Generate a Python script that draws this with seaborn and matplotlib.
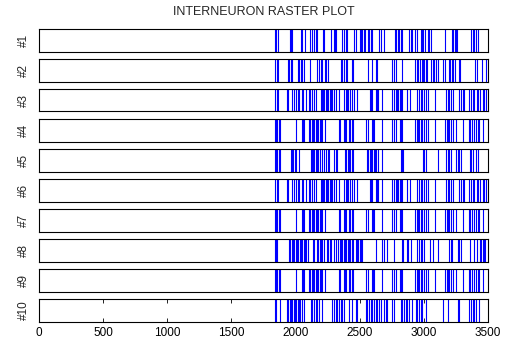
import matplotlib
matplotlib.use("Agg")
import matplotlib.pyplot as plt
import seaborn as sns

sns.set_style("white")
plt.rcParams["font.family"] = ["Liberation Sans", "DejaVu Sans"]

title = "INTERNEURON RASTER PLOT"
row_labels = ["#1", "#2", "#3", "#4", "#5", "#6", "#7", "#8", "#9", "#10"]
x_ticks = [0, 500, 1000, 1500, 2000, 2500, 3000, 3500]

# spike times (ms) for each interneuron
spikes_1 = [1838, 1851, 1865, 1953, 1961, 1974, 2042, 2052, 2070, 2112, 2130, 2143,
            2156, 2169, 2213, 2224, 2276, 2299, 2307, 2315, 2365, 2378, 2391, 2401,
            2456, 2469, 2503, 2513, 2521, 2531, 2542, 2562, 2573, 2586, 2599, 2651,
            2664, 2687, 2773, 2784, 2797, 2807, 2820, 2828, 2888, 2898, 2911, 2930,
            2943, 2974, 2984, 2997, 3008, 3029, 3042, 3057, 3167, 3219, 3229, 3240,
            3250, 3260, 3367, 3380, 3393, 3406, 3422]
spikes_2 = [1838, 1852, 1862, 1940, 1948, 1961, 1974, 2018, 2026, 2042, 2052, 2065,
            2112, 2169, 2182, 2195, 2208, 2229, 2240, 2250, 2357, 2365, 2375, 2391,
            2404, 2437, 2450, 2562, 2599, 2625, 2635, 2755, 2768, 2779, 2828, 2932,
            2943, 2956, 2969, 2982, 2992, 3005, 3016, 3026, 3055, 3068, 3081, 3094,
            3112, 3151, 3164, 3193, 3203, 3216, 3229, 3245, 3271, 3284, 3401, 3411,
            3453, 3484]
spikes_3 = [1838, 1852, 1862, 1935, 1943, 1974, 1987, 2005, 2016, 2026, 2047, 2057,
            2078, 2104, 2115, 2125, 2143, 2156, 2195, 2203, 2213, 2224, 2234, 2245,
            2255, 2266, 2276, 2286, 2299, 2312, 2338, 2380, 2391, 2401, 2411, 2422,
            2443, 2456, 2482, 2581, 2588, 2599, 2625, 2635, 2646, 2677, 2755, 2768,
            2781, 2792, 2802, 2812, 2823, 2833, 2872, 2890, 2950, 2963, 2976, 2989,
            3003, 3016, 3029, 3088, 3172, 3185, 3198, 3211, 3224, 3276, 3289, 3302,
            3315, 3354, 3367, 3380, 3393, 3411, 3424, 3437, 3458, 3471, 3484]
spikes_4 = [1838, 1849, 1859, 1870, 1880, 2000, 2047, 2057, 2068, 2104, 2115, 2125,
            2135, 2146, 2156, 2167, 2177, 2187, 2198, 2208, 2229, 2338, 2349, 2375,
            2385, 2396, 2417, 2427, 2437, 2448, 2552, 2562, 2594, 2604, 2615, 2677,
            2755, 2768, 2781, 2812, 2823, 2833, 2932, 2943, 2953, 2963, 2976, 2989,
            3003, 3016, 3029, 3088, 3167, 3177, 3187, 3198, 3211, 3224, 3250, 3302,
            3349, 3359, 3375, 3393, 3406, 3419, 3427, 3458]
spikes_5 = [1838, 1849, 1859, 1870, 1880, 1961, 1969, 1979, 1995, 2005, 2026, 2117,
            2125, 2135, 2146, 2156, 2167, 2177, 2187, 2208, 2221, 2240, 2250, 2260,
            2299, 2312, 2323, 2385, 2396, 2406, 2417, 2427, 2437, 2448, 2560, 2568,
            2578, 2588, 2599, 2609, 2620, 2630, 2641, 2677, 2820, 2828, 2838, 2995,
            3005, 3016, 3107, 3172, 3185, 3198, 3211, 3250, 3263, 3276, 3289, 3359,
            3370, 3385, 3406, 3419]
spikes_6 = list(spikes_3)
spikes_7 = list(spikes_4)
spikes_8 = [1838, 1849, 1859, 1948, 1958, 1969, 1979, 1990, 2000, 2010, 2021, 2031,
            2042, 2052, 2062, 2073, 2083, 2094, 2135, 2146, 2169, 2177, 2187, 2198,
            2208, 2219, 2247, 2255, 2266, 2276, 2299, 2312, 2333, 2344, 2354, 2365,
            2375, 2385, 2396, 2406, 2417, 2427, 2437, 2448, 2469, 2479, 2490, 2500,
            2510, 2521, 2625, 2677, 2687, 2716, 2768, 2828, 2838, 2865, 2875, 2901,
            2950, 2963, 2976, 2989, 3003, 3047, 3073, 3107, 3198, 3208, 3219, 3263,
            3276, 3286, 3359, 3393, 3411, 3437, 3448, 3458, 3469, 3479]
spikes_9 = list(spikes_4)
spikes_10 = [1838, 1849, 1875, 1935, 1943, 1953, 1964, 1974, 1984, 1995, 2005, 2016,
             2026, 2036, 2052, 2062, 2117, 2130, 2143, 2156, 2169, 2182, 2208, 2286,
             2299, 2312, 2325, 2338, 2351, 2365, 2378, 2417, 2437, 2469, 2482, 2547,
             2560, 2573, 2586, 2599, 2612, 2625, 2638, 2651, 2664, 2690, 2703, 2716,
             2755, 2768, 2820, 2833, 2846, 2859, 2872, 2885, 2911, 2937, 2950, 2963,
             2976, 2989, 3016, 3146, 3185, 3263, 3276, 3354, 3367, 3380, 3393, 3406,
             3432]

all_spikes = [spikes_1, spikes_2, spikes_3, spikes_4, spikes_5,
              spikes_6, spikes_7, spikes_8, spikes_9, spikes_10]

W, H = 505, 341
fig = plt.figure(figsize=(W / 100, H / 100), dpi=100)
fig.patch.set_facecolor("white")

left_px, right_px = 39, 488
top0_px, row_h_px, pitch_px = 29, 22.5, 30

axes = []
for i, (lab, sp) in enumerate(zip(row_labels, all_spikes)):
    top = top0_px + pitch_px * i
    ax = fig.add_axes([left_px / W, 1 - (top + row_h_px) / H,
                       (right_px - left_px) / W, row_h_px / H])
    sns.rugplot(x=sp, height=1, ax=ax, color="blue", linewidth=0.8,
                expand_margins=False)
    ax.set_xlim(0, 3500)
    ax.set_ylim(0, 1)
    ax.set_yticks([])
    ax.set_ylabel(lab, rotation=90, fontsize=8.5, labelpad=11, va="center")
    for s in ax.spines.values():
        s.set_visible(True)
        s.set_color("black")
        s.set_linewidth(0.8)
    if i < len(row_labels) - 1:
        ax.set_xticks([])
    else:
        ax.set_xticks(x_ticks)
        ax.set_xticklabels([str(t) for t in x_ticks], fontsize=8.5)
        ax.tick_params(axis="x", direction="in", length=3, width=0.6,
                       top=True, bottom=True, pad=4, colors="black")
    axes.append(ax)

axes[0].set_title(title, fontsize=9, pad=10)

fig.savefig("out.png", dpi=100, facecolor="white")
